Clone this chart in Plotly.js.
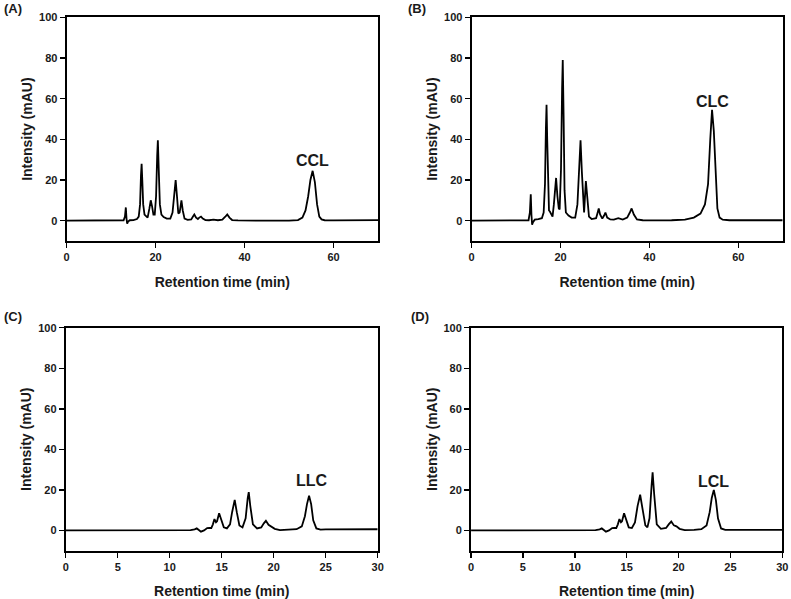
<!DOCTYPE html>
<html>
<head>
<meta charset="utf-8">
<script src="https://cdn.plot.ly/plotly-3.0.1.min.js"></script>
<style>html,body{margin:0;padding:0;background:#fff;}#chart{width:791px;height:599px;}</style>
</head>
<body>
<div id="chart"></div>
<script>
// Panel A (CCL) – retention time (min) and intensity (mAU)
const timeA = [0, 10, 12.8, 13.1, 13.3, 13.45, 13.6, 13.8, 14.2, 15, 15.8, 16.2, 16.5, 16.7, 16.85, 17.0, 17.2, 17.5, 17.9, 18.2, 18.6, 18.9, 19.2, 19.5, 19.8, 20.1, 20.35, 20.5, 20.7, 20.95, 21.3, 21.8, 22.5, 23.3, 23.8, 24.2, 24.5, 24.8, 25.1, 25.4, 25.8, 26.1, 26.5, 27.2, 28, 28.4, 28.7, 29.1, 29.5, 29.8, 30.2, 30.6, 31.2, 32, 33, 34, 35, 35.6, 36.1, 36.6, 37.2, 38.5, 40, 45, 50, 52, 53, 53.7, 54.3, 54.8, 55.3, 55.8, 56.3, 56.8, 57.3, 58, 60, 70];
const intA = [0, 0, 0.2, 2, 6.5, 1, -1.5, -0.5, 0.2, 0.3, 0.8, 2, 8, 22, 28, 20, 8, 3, 2, 1.5, 6, 10, 7, 3, 3, 12, 32, 39.5, 25, 8, 3, 1.8, 1, 1, 4, 14, 20, 12, 3.5, 4, 10, 5, 1, 0.4, 0.6, 2, 3, 1.5, 0.8, 1.5, 2, 1, 0.3, 0.2, 0.5, 0.2, 0.5, 1.8, 3, 1.5, 0.3, 0.1, 0, 0, 0, 0.3, 1.5, 5, 12, 20, 24.5, 19, 8, 2, 0.6, 0.2, 0.1, 0.3];

// Panel B (CLC)
const timeB = [0, 10, 12.8, 13.1, 13.3, 13.45, 13.6, 13.8, 14.2, 15, 15.8, 16.2, 16.5, 16.7, 16.85, 17.0, 17.2, 17.4, 17.6, 17.9, 18.2, 18.5, 18.8, 19.0, 19.3, 19.6, 19.8, 20.1, 20.35, 20.5, 20.7, 20.9, 21.2, 21.8, 22.5, 23.3, 23.8, 24.2, 24.5, 24.8, 25.1, 25.3, 25.7, 26.0, 26.4, 27, 28, 28.3, 28.6, 28.9, 29.4, 29.8, 30.1, 30.5, 31.2, 32, 33, 34, 35, 35.6, 36, 36.5, 37.2, 38.5, 40, 45, 48, 50, 51.5, 52.5, 53.2, 53.7, 54.1, 54.5, 54.9, 55.3, 55.8, 56.5, 58, 62, 70];
const intB = [0, 0, 0.2, 4, 13, 3, -2, -0.8, 0.5, 0.8, 1.2, 4, 18, 45, 57, 40, 12, 5, 4.5, 3.5, 2, 8, 18, 21, 12, 6, 5.5, 25, 65, 79, 50, 15, 4, 2.5, 1.5, 1.5, 8, 30, 39.5, 24, 6, 4, 19.5, 11, 2, 0.8, 1.2, 3.5, 6, 3, 1, 2.5, 4, 1.5, 0.6, 0.5, 1.2, 0.5, 1.5, 4, 6, 3, 0.6, 0.2, 0.1, 0.2, 0.5, 1.5, 3.5, 8, 18, 40, 54.5, 44, 20, 6, 1.5, 0.5, 0.2, 0.3, 0.2];

// Panel C (LLC)
const timeC = [0, 5, 10, 12, 12.4, 12.6, 12.8, 13.0, 13.3, 13.6, 13.8, 14.0, 14.15, 14.3, 14.45, 14.55, 14.75, 14.95, 15.2, 15.5, 15.8, 16.0, 16.25, 16.45, 16.7, 17.0, 17.3, 17.5, 17.6, 17.75, 18.0, 18.4, 18.8, 19.05, 19.25, 19.5, 19.8, 20.1, 20.6, 21.5, 22.2, 22.7, 23.0, 23.2, 23.4, 23.6, 23.8, 24.1, 24.5, 25, 30];
const intC = [0, 0, 0.1, 0.2, 0.5, 1, 0.2, -0.6, 0, 1.2, 1.3, 1.2, 3, 5.6, 4, 4.5, 8.5, 5, 1.5, 1, 3, 9, 15.1, 9, 2.5, 1.5, 6, 16, 18.9, 12, 3, 1, 1.5, 3.5, 4.8, 2.8, 2, 0.8, 0.2, 0.3, 0.6, 2, 7, 13, 17.1, 13, 5, 1, 0.4, 0.5, 0.6];

// Panel D (LCL)
const timeD = [0, 5, 10, 12, 12.4, 12.6, 12.8, 13.0, 13.3, 13.6, 13.8, 14.0, 14.15, 14.3, 14.45, 14.55, 14.75, 14.95, 15.2, 15.5, 15.8, 16.05, 16.3, 16.55, 16.8, 17.0, 17.2, 17.4, 17.5, 17.65, 17.9, 18.3, 18.8, 19.05, 19.3, 19.55, 19.8, 20.1, 20.6, 21.5, 22.2, 22.7, 23.0, 23.2, 23.4, 23.6, 23.8, 24.1, 24.5, 25, 30];
const intD = [0, 0, 0.1, 0.2, 0.5, 1, 0.2, -0.6, 0, 1.2, 1.3, 1.2, 3, 5.6, 4, 4.5, 8.5, 5, 1.5, 1.2, 4, 12, 17.6, 10, 2.5, 1.5, 6, 22, 28.7, 18, 3, 0.8, 1.2, 3, 4.4, 2.5, 2, 0.8, 0.2, 0.3, 0.6, 2.5, 9, 16, 20, 15, 6, 1, 0.3, 0.3, 0.3];

const panelLabels = ["(A)", "(B)", "(C)", "(D)"];
const peakLabels = ["CCL", "CLC", "LLC", "LCL"];
const peakLabelPos = [[55.3, 29.5], [54.2, 58.5], [23.7, 24.4], [23.4, 24.2]];
const xRanges = [[0, 70], [0, 70], [0, 30], [0, 30]];
const xDtick = [20, 20, 5, 5];
const yRange = [-10, 100];

const FONT = "Liberation Sans, Arial, Helvetica, sans-serif";
const series = [[timeA, intA], [timeB, intB], [timeC, intC], [timeD, intD]];
const xDomains = [[0.0843, 0.4779], [0.5963, 0.9895], [0.0831, 0.4775], [0.5955, 0.989]];
const yDomains = [[0.5977, 0.9711], [0.5977, 0.9711], [0.0806, 0.4529], [0.0806, 0.4529]];
const labelPos = [[0.003, 0.985], [0.513, 0.985], [0.003, 0.471], [0.517, 0.471]];

const traces = series.map((s, i) => ({
  x: s[0], y: s[1], type: "scatter", mode: "lines",
  line: {color: "#000", width: 1.8, shape: "linear"},
  xaxis: i === 0 ? "x" : "x" + (i + 1),
  yaxis: i === 0 ? "y" : "y" + (i + 1),
  hoverinfo: "x+y", showlegend: false
}));

const layout = {
  width: 791, height: 599,
  margin: {l: 0, r: 0, t: 0, b: 0},
  paper_bgcolor: "#fff", plot_bgcolor: "#fff",
  font: {family: FONT, color: "#000"},
  showlegend: false,
  annotations: []
};

for (let i = 0; i < 4; i++) {
  const sx = i === 0 ? "" : String(i + 1);
  layout["xaxis" + sx] = {
    domain: xDomains[i], range: xRanges[i], dtick: xDtick[i], tick0: 0,
    anchor: "y" + sx, showgrid: false, zeroline: false,
    showline: true, mirror: true, linecolor: "#000", linewidth: 2,
    ticks: "outside", ticklen: 5, tickwidth: 1.5, tickcolor: "#000",
    tickfont: {family: FONT, size: 11, color: "#1a1a1a", weight: "bold"},
    title: {text: "<b>Retention time (min)</b>", font: {family: FONT, size: 14, color: "#1a1a1a"}, standoff: 15}
  };
  layout["yaxis" + sx] = {
    domain: yDomains[i], range: yRange, dtick: 20, tick0: 0,
    anchor: "x" + sx, showgrid: false, zeroline: false,
    showline: true, mirror: true, linecolor: "#000", linewidth: 2,
    ticks: "outside", ticklen: 5, tickwidth: 1.5, tickcolor: "#000",
    tickfont: {family: FONT, size: 11, color: "#1a1a1a", weight: "bold"},
    title: {text: "<b>Intensity (mAU)</b>", font: {family: FONT, size: 14, color: "#1a1a1a"}, standoff: 3}
  };
  layout.annotations.push({
    xref: "paper", yref: "paper", x: labelPos[i][0], y: labelPos[i][1],
    xanchor: "left", yanchor: "middle", showarrow: false,
    text: "<b>" + panelLabels[i] + "</b>", font: {family: FONT, size: 13, color: "#1a1a1a"}
  });
  layout.annotations.push({
    xref: "x" + sx, yref: "y" + sx, x: peakLabelPos[i][0], y: peakLabelPos[i][1],
    xanchor: "center", yanchor: "middle", showarrow: false,
    text: "<b>" + peakLabels[i] + "</b>", font: {family: FONT, size: 16, color: "#1a1a1a"}
  });
}

Plotly.newPlot("chart", traces, layout, {staticPlot: true, displayModeBar: false});
</script>
</body>
</html>
